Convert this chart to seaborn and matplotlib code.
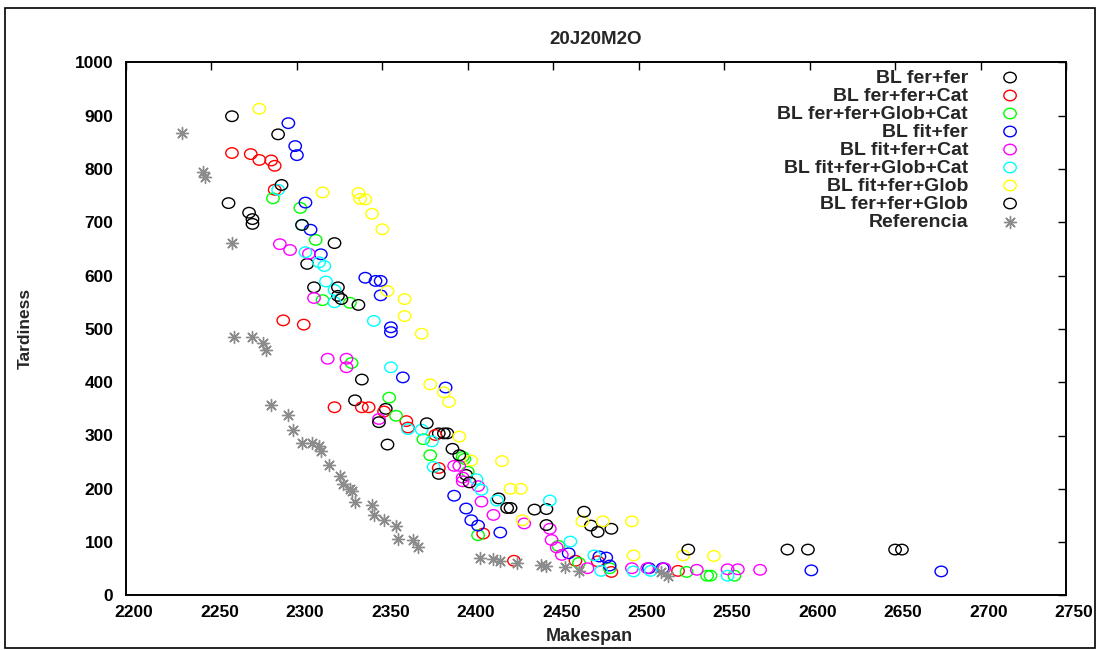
import numpy as np
import pandas as pd
import matplotlib
matplotlib.use("Agg")
import matplotlib.pyplot as plt
from matplotlib.path import Path
from matplotlib.patches import Rectangle
from matplotlib.transforms import ScaledTranslation
import seaborn as sns

# ---- data: (makespan, tardiness) per configuration ----
fer_fer_x = [2262, 2289, 2260, 2272, 2274, 2306, 2310, 2324, 2334, 2352, 2353,
             2383, 2388, 2391, 2399, 2418, 2425, 2446, 2472, 2484, 2587, 2650]
fer_fer_y = [899, 865, 736, 718, 706, 622, 578, 562, 366, 350, 283,
             304, 304, 275, 226, 182, 164, 162, 131, 125, 86, 86]

fer_fer_cat_x = [2262, 2273, 2278, 2285, 2287, 2287, 2292, 2304, 2322, 2338, 2342,
                 2351, 2364, 2365, 2381, 2383, 2409, 2427, 2463, 2476, 2484, 2523]
fer_fer_cat_y = [830, 828, 817, 816, 806, 761, 516, 508, 353, 353, 353,
                 345, 327, 315, 301, 239, 116, 65, 65, 64, 44, 46]

fer_fer_glob_cat_x = [2286, 2302, 2311, 2315, 2331, 2332, 2354, 2358, 2374, 2378,
                      2397, 2398, 2400, 2406, 2453, 2465, 2483, 2528, 2540, 2542, 2556]
fer_fer_glob_cat_y = [745, 727, 667, 554, 549, 436, 371, 337, 293, 263,
                      260, 256, 232, 113, 93, 61, 51, 44, 37, 37, 37]

fit_fer_x = [2295, 2299, 2300, 2305, 2308, 2314, 2340, 2346, 2349, 2349, 2355, 2355,
             2362, 2387, 2392, 2399, 2402, 2406, 2419, 2459, 2477, 2481, 2483,
             2506, 2514, 2601, 2677]
fit_fer_y = [886, 843, 826, 737, 686, 640, 596, 590, 590, 563, 503, 494,
             409, 390, 187, 163, 141, 131, 118, 79, 73, 71, 56,
             51, 51, 47, 45]

fit_fer_cat_x = [2290, 2296, 2307, 2310, 2318, 2329, 2329, 2348, 2392, 2395, 2397,
                 2397, 2406, 2408, 2415, 2433, 2448, 2449, 2452, 2455, 2470, 2496,
                 2505, 2515, 2534, 2552, 2558, 2571]
fit_fer_cat_y = [659, 648, 641, 558, 444, 444, 428, 331, 243, 243, 221,
                 214, 205, 176, 151, 135, 125, 104, 90, 76, 51, 51,
                 51, 51, 48, 49, 49, 48]

fit_fer_glob_cat_x = [2289, 2303, 2305, 2313, 2316, 2317, 2322, 2322, 2345, 2355,
                      2365, 2373, 2379, 2380, 2405, 2408, 2417, 2448, 2460, 2474,
                      2478, 2497, 2507, 2552]
fit_fer_glob_cat_y = [761, 695, 644, 625, 618, 589, 573, 550, 515, 428,
                      312, 311, 289, 241, 218, 198, 178, 178, 101, 75,
                      46, 45, 46, 37]

fit_fer_glob_x = [2278, 2315, 2336, 2337, 2340, 2344, 2350, 2353, 2363, 2363, 2373,
                  2378, 2386, 2389, 2395, 2402, 2420, 2425, 2431, 2432, 2467, 2479,
                  2496, 2497, 2526, 2544]
fit_fer_glob_y = [913, 756, 755, 744, 743, 716, 687, 571, 556, 524, 491,
                  396, 381, 363, 298, 253, 252, 200, 200, 141, 139, 139,
                  139, 75, 75, 74]

fer_fer_glob_x = [2291, 2274, 2303, 2322, 2324, 2326, 2336, 2338, 2348, 2376, 2386,
                  2395, 2383, 2401, 2423, 2439, 2446, 2468, 2476, 2529, 2599, 2654]
fer_fer_glob_y = [770, 697, 695, 661, 578, 556, 545, 405, 325, 323, 304,
                  263, 228, 212, 164, 161, 132, 157, 119, 86, 86, 86]

referencia_x = [2233, 2245, 2246, 2262, 2263, 2274, 2280, 2282, 2285, 2295, 2298,
                2303, 2309, 2313, 2314, 2319, 2325, 2327, 2331, 2332, 2334, 2344,
                2345, 2351, 2358, 2359, 2368, 2371, 2407, 2415, 2419, 2429, 2443,
                2446, 2457, 2465, 2513, 2517]
referencia_y = [868, 794, 785, 662, 485, 484, 474, 461, 358, 339, 311,
                286, 286, 281, 271, 245, 224, 209, 199, 196, 176, 169,
                150, 141, 131, 106, 104, 90, 71, 69, 65, 61, 57,
                55, 54, 46, 43, 36]

series_names = ["BL fer+fer", "BL fer+fer+Cat", "BL fer+fer+Glob+Cat", "BL fit+fer",
                "BL fit+fer+Cat", "BL fit+fer+Glob+Cat", "BL fit+fer+Glob",
                "BL fer+fer+Glob", "Referencia"]
series_x = [fer_fer_x, fer_fer_cat_x, fer_fer_glob_cat_x, fit_fer_x, fit_fer_cat_x,
            fit_fer_glob_cat_x, fit_fer_glob_x, fer_fer_glob_x, referencia_x]
series_y = [fer_fer_y, fer_fer_cat_y, fer_fer_glob_cat_y, fit_fer_y, fit_fer_cat_y,
            fit_fer_glob_cat_y, fit_fer_glob_y, fer_fer_glob_y, referencia_y]
series_colors = ["#000000", "#ff0000", "#00ff00", "#0000ff", "#ff00ff",
                 "#00ffff", "#ffff00", "#000000", "#8c8c8c"]

x_ticks = list(range(2200, 2751, 50))
y_ticks = list(range(0, 1001, 100))

df = pd.concat(
    [pd.DataFrame({"Makespan": xs, "Tardiness": ys, "serie": name})
     for name, xs, ys in zip(series_names, series_x, series_y)],
    ignore_index=True,
)

# ---- style ----
sns.set_theme(style="white")
plt.rcParams["font.family"] = ["Liberation Sans", "DejaVu Sans"]
plt.rcParams["font.weight"] = "bold"
plt.rcParams["axes.labelweight"] = "bold"
plt.rcParams["axes.titleweight"] = "bold"

fig = plt.figure(figsize=(11, 6.5), dpi=100)
ax = fig.add_axes([126 / 1100, 1 - 595.4 / 650, 940 / 1100, 533 / 650])

# slightly wide open ellipse used for the circle markers
circ = Path.unit_circle()
ellipse = Path(circ.vertices * np.array([1.18, 1.0]), circ.codes)
asterisk = (8, 2, 0)

for name, color in zip(series_names, series_colors):
    sub = df[df["serie"] == name]
    if name == "Referencia":
        # line-art marker: its strokes take the face colour
        sns.scatterplot(
            data=sub, x="Makespan", y="Tardiness", ax=ax,
            marker=asterisk, s=75, color=color, linewidth=1.0,
            label=name, zorder=3,
        )
    else:
        sns.scatterplot(
            data=sub, x="Makespan", y="Tardiness", ax=ax,
            marker=ellipse, s=80,
            facecolor="none", edgecolor=color, linewidth=1.0,
            label=name, zorder=3,
        )

ax.set_xlim(2200, 2750)
ax.set_ylim(0, 1000)
ax.set_xticks(x_ticks)
ax.set_yticks(y_ticks)
ax.set_xticklabels([str(t) for t in x_ticks])
ax.set_yticklabels([str(t) for t in y_ticks])

ax.tick_params(direction="in", length=6, width=1.0, colors="black",
               top=True, right=True, labelsize=12.5)
ax.tick_params(axis="x", pad=7)
ax.tick_params(axis="y", pad=9)
for sp in ax.spines.values():
    sp.set_color("black")
    sp.set_linewidth(1.4)

ax.set_title("20J20M2O", fontsize=13.5, fontweight="bold", pad=13)
ax.set_xlabel("Makespan", fontsize=13, fontweight="bold")
ax.set_ylabel("Tardiness", fontsize=12.5, fontweight="bold")
ax.xaxis.set_label_coords(0.493, -0.062)
ax.yaxis.set_label_coords(-0.099, 0.5)

leg = ax.legend(loc="upper right", bbox_to_anchor=(0.9529, 0.9876),
                markerfirst=False, frameon=False, fontsize=14,
                handlelength=1.2, handletextpad=1.56, labelspacing=0.02,
                borderpad=0, borderaxespad=0)
for t in leg.get_texts():
    t.set_fontweight("bold")

# outer frame around the whole figure
fig.add_artist(Rectangle((5 / 1100, 2 / 650), 1090 / 1100, 640 / 650,
                         transform=fig.transFigure, fill=False,
                         edgecolor="black", linewidth=1.2))

fig.canvas.draw()
shift = ScaledTranslation(0.08, 0, fig.dpi_scale_trans)
for lbl in ax.get_xticklabels():
    lbl.set_transform(lbl.get_transform() + shift)

fig.savefig("out.png", dpi=100)
